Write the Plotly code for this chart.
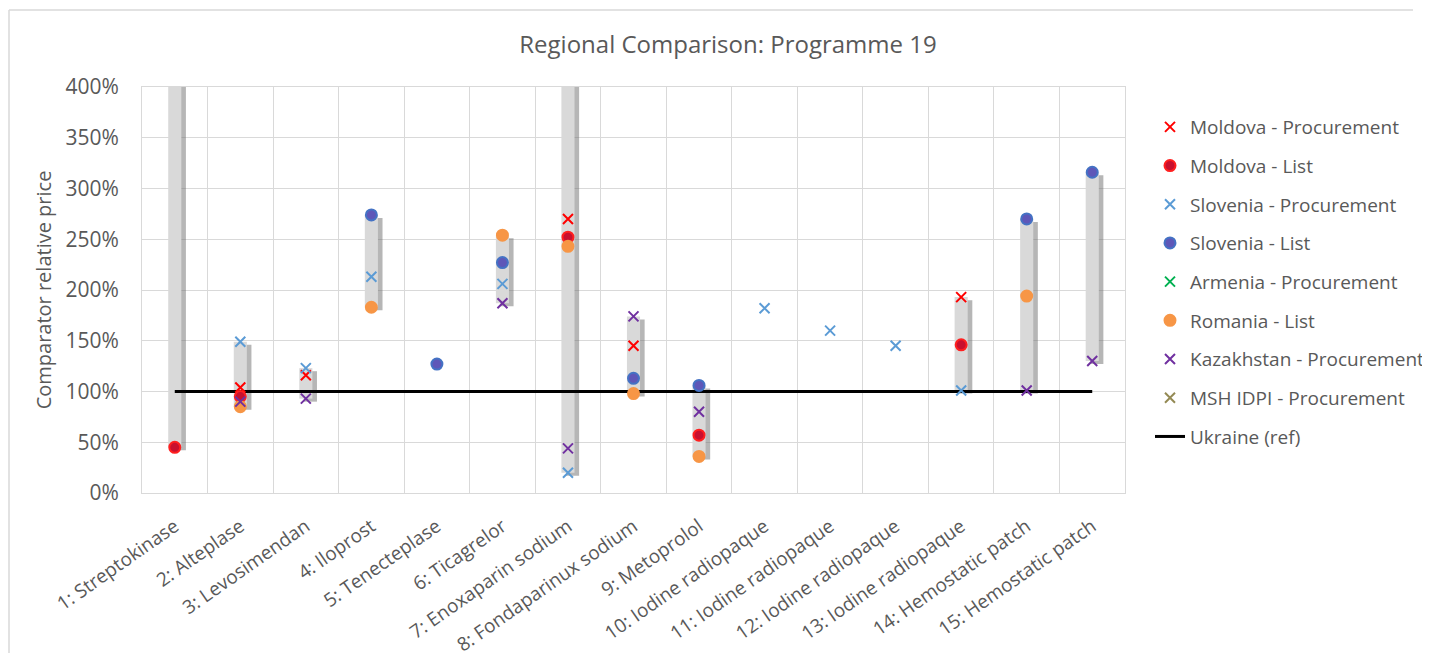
import plotly.graph_objects as go

categories = ["1: Streptokinase", "2: Alteplase", "3: Levosimendan", "4: Iloprost",
              "5: Tenecteplase", "6: Ticagrelor", "7: Enoxaparin sodium",
              "8: Fondaparinux sodium", "9: Metoprolol", "10: Iodine radiopaque",
              "11: Iodine radiopaque", "12: Iodine radiopaque", "13: Iodine radiopaque",
              "14: Hemostatic patch", "15: Hemostatic patch"]

N = None
moldova_proc   = [N, 104, 116, N, N, N, 270, 145, N, N, N, N, 193, N, N]
moldova_list   = [45, 95, N, N, N, N, 252, N, 57, N, N, N, 146, N, N]
slovenia_proc  = [N, 149, 123, 213, N, 206, 20, N, N, 182, 160, 145, 101, N, N]
slovenia_list  = [N, N, N, 274, 127, 227, N, 113, 106, N, N, N, N, 270, 316]
armenia_proc   = [N] * 15
romania_list   = [N, 85, N, 183, N, 254, 243, 98, 36, N, N, N, N, 194, N]
kazakh_proc    = [N, 90, 93, N, N, 187, 44, 174, 80, N, N, N, N, 101, 130]
msh_proc       = [N] * 15
ukraine_ref    = [100] * 15

range_low  = [45, 85, 93, 183, N, 187, 20, 98, 36, N, N, N, 101, 101, 130]
range_high = [450, 149, 123, 274, N, 254, 450, 174, 106, N, N, N, 193, 270, 316]

TXT = "#595959"
FONT = "Open Sans"

fig = go.Figure()

heights = [(h - l) if (h is not None and l is not None) else None
           for l, h in zip(range_low, range_high)]

# shadow of the range bars
fig.add_trace(go.Bar(
    x=categories, y=heights,
    base=[(l - 3) if l is not None else None for l in range_low],
    width=0.2, offset=-0.03,
    marker=dict(color="rgba(110,110,110,0.5)", line=dict(width=0)),
    showlegend=False, hoverinfo="skip"))
# range bars
fig.add_trace(go.Bar(
    x=categories, y=heights, base=range_low,
    width=0.2, offset=-0.1,
    marker=dict(color="#D9D9D9", line=dict(width=0)),
    showlegend=False, hoverinfo="skip"))


def xs(name, vals, color, size=10):
    return go.Scatter(x=categories, y=vals, mode="markers", name=name,
                      legendgroup=name,
                      marker=dict(symbol="x-thin", size=size,
                                  line=dict(color=color, width=2), color=color))


def dots(name, vals, fill, edge, size=11):
    return go.Scatter(x=categories, y=vals, mode="markers", name=name,
                      legendgroup=name,
                      marker=dict(symbol="circle", size=size, color=fill,
                                  line=dict(color=edge, width=2)))


fig.add_trace(go.Scatter(x=categories, y=ukraine_ref, mode="lines", name="Ukraine (ref)",
                         legendgroup="Ukraine (ref)", legendrank=2000,
                         line=dict(color="black", width=3)))

fig.add_trace(xs("Moldova - Procurement", moldova_proc, "#FF0000"))
fig.add_trace(dots("Moldova - List", moldova_list, "#C8102E", "#FF1F1F"))
fig.add_trace(xs("Slovenia - Procurement", slovenia_proc, "#5B9BD5"))
fig.add_trace(dots("Slovenia - List", slovenia_list, "#5E57B8", "#4472C4"))
fig.add_trace(xs("Armenia - Procurement", armenia_proc, "#00B050"))
fig.add_trace(dots("Romania - List", romania_list, "#F79646", "#F79646"))
fig.add_trace(xs("Kazakhstan - Procurement", kazakh_proc, "#7030A0"))
fig.add_trace(xs("MSH IDPI - Procurement", msh_proc, "#948A54"))

# page body adds an 8px offset; target screen positions are reduced by 8
OFF = 8
W, H = 1430, 653
PL, PR, PT, PB = 142 - OFF, 1125 - OFF, 87 - OFF, 493 - OFF
L, R, T, B = PL, W - PR, PT, H - PB
pw, ph = PR - PL, PB - PT


def px_x(p):
    return (p - OFF - PL) / pw


def px_y(p):
    return (PB - (p - OFF)) / ph


fig.update_layout(
    width=W, height=H,
    margin=dict(l=L, r=R, t=T, b=B, autoexpand=False),
    paper_bgcolor="white", plot_bgcolor="white",
    barmode="overlay",
    font=dict(family=FONT, color=TXT, size=18),
    title=dict(text="Regional Comparison: Programme 19", x=px_x(728), xref="paper",
               xanchor="center", y=1 - (45 - OFF) / H, yref="container", yanchor="middle",
               font=dict(size=24, color=TXT, family=FONT)),
    legend=dict(x=px_x(1150), y=px_y(108), xanchor="left", yanchor="top",
                font=dict(size=19, color=TXT, family=FONT), tracegroupgap=11,
                traceorder="grouped", bgcolor="rgba(0,0,0,0)"),
    shapes=[
        dict(type="line", xref="paper", yref="paper", x0=px_x(9), x1=px_x(1413),
             y0=px_y(10), y1=px_y(10), line=dict(color="#D9D9D9", width=1.5)),
        dict(type="line", xref="paper", yref="paper", x0=px_x(9), x1=px_x(9),
             y0=px_y(10), y1=px_y(680), line=dict(color="#D9D9D9", width=1.5)),
    ],
)

fig.update_xaxes(type="category", tickson="boundaries", showgrid=True, gridcolor="#D9D9D9",
                 gridwidth=1, showline=True, linecolor="#D9D9D9", mirror=True,
                 ticks="", tickangle=-35, ticklabelstandoff=14,
                 tickfont=dict(size=19, color=TXT, family=FONT),
                 range=[-0.5, 14.5])
fig.update_yaxes(range=[0, 400], dtick=50, ticksuffix="%", showgrid=True, gridcolor="#D9D9D9",
                 gridwidth=1, showline=True, linecolor="#D9D9D9", mirror=True, zeroline=False,
                 ticks="", ticklabelstandoff=18, tickfont=dict(size=21, color=TXT, family=FONT),
                 title=dict(text="Comparator relative price", standoff=8,
                            font=dict(size=20, color=TXT, family=FONT)))

fig.write_html("out.html")
